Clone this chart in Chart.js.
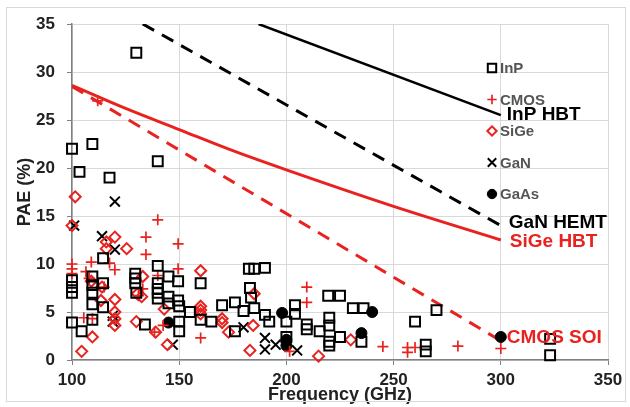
<!DOCTYPE html>
<html>
<head>
<meta charset="utf-8">
<script src="https://cdn.jsdelivr.net/npm/chart.js@4.4.1/dist/chart.umd.min.js"></script>
<style>
  html, body { margin:0; padding:0; background:#fff; }
  #wrap { position:relative; width:630px; height:407px; }
  #frame { position:absolute; left:6px; top:7px; width:618px; height:393px; border:1px solid #d9d9d9; pointer-events:none; }
</style>
</head>
<body>
<div id="wrap">
  <canvas id="chart" width="630" height="407"></canvas>
  <div id="frame"></div>
</div>
<script>
// measured points, [frequency GHz, PAE %]
const inpPoints = [
  [130,32],[100,22],[109.5,22.5],[103.5,19.6],[117.5,19],[140,20.7],
  [100,8.3],[100,7.6],[100,7.0],[100,3.9],[104.5,3.0],
  [109.5,8.7],[109.5,7.8],[109.5,7.0],[109.5,5.8],[109.5,4.2],
  [114.5,10.6],[114.5,8.0],[114.5,5.5],
  [129.5,9.0],[129.5,8.5],[129.5,8.0],[130,7.0],[134,3.7],
  [140,9.8],[140,8.0],[140,7.4],[140,7.0],[140,6.4],
  [145,8.7],[145,6.6],[145,5.9],
  [149.5,8.2],[149.5,6.2],[150,5.6],[150,4.0],[150,3.0],
  [155,5.0],[160,8.0],[160,4.2],[165,4.0],[170,5.7],[176,6.0],[180,5.1],[176,3.0],
  [182.5,9.5],[185,9.5],[190,9.6],[183,7.5],[183.5,6.5],[185,5.4],[190,4.7],[192,4.0],
  [200,4.0],[200,2.4],[204,5.7],[204,4.8],[209.5,3.7],[209.5,3.2],
  [215.5,3.0],[219.5,6.7],[225,6.7],[220,4.4],[220,3.6],[220,1.9],[220,1.5],[225,2.4],
  [231,5.4],[236,5.4],[235,1.9],[260,4.0],[270,5.2],[265,1.6],[265,0.9],[323,2.2],[323,0.5]
];
const cmosPoints = [
  [100,10.0],[100,9.5],[100,9.0],[106.5,9.2],[108,8.5],[109,10.2],[117.5,10.1],[120,9.4],
  [115,7.6],[105.5,4.4],[109.5,4.3],[112,27],[134.5,12.8],[134.5,11.0],[140,14.6],[140,8.8],
  [149.5,12.1],[149.5,9.5],[133,7.4],[131,6.7],[138.5,2.9],[142.5,3.6],[160,2.3],[201.5,0.9],
  [209.5,7.6],[209.5,6.0],[245,1.4],[256.5,1.3],[256.5,0.8],[260,1.3],[280,1.45],[300,1.2]
];
const sigePoints = [
  [100,14],[101.5,17],[104.5,0.9],[109.5,2.4],[109,8.2],[114,7.6],[113.5,6.2],[116,12.3],
  [116,11.6],[120,12.8],[125.5,11.6],[120,6.3],[120,5.0],[120,4.3],[120,3.6],[130,4.0],
  [133,8.7],[130.5,6.9],[132.5,6.6],[139,2.9],[143,5.3],[144.5,1.6],[160,9.3],[160,5.6],
  [160,5.2],[160,4.8],[170,4.3],[170,3.9],[173,2.9],[183,1.0],[185,6.9],[184.5,3.6],
  [215,0.4],[230,2.1]
];
const ganPoints = [
  [101,14],[114,12.9],[120,16.5],[120,11.5],[119,4.6],[119,4.0],[147,1.6],[180,3.4],
  [190,2.3],[190,1.1],[195,1.6],[205,1.0]
];
const gaasPoints = [[145,3.9],[198,4.9],[200,1.5],[200,2.1],[235,2.8],[240,5.0],[300,2.4]];

// trend curves
const inpHbt = [[187,35],[300,25.5]];
const ganHemt = [[133,35],[300,14]];
const sigeHbt = [[100,28.6],[125,26.2],[150,24.0],[175,21.8],[200,19.8],[250,16.0],[300,12.5]];
const cmosSoi = [[100,28.5],[300,2]];

const xTicks = [100,150,200,250,300,350];
const legendNames = ["InP","CMOS","SiGe","GaN","GaAs"];
const curveNames = ["InP HBT","GaN HEMT","SiGe HBT","CMOS SOI"];

const RED = "#e8231f";
const FONT = '"Liberation Sans", Arial, sans-serif';
const xy = arr => arr.map(p => ({x:p[0], y:p[1]}));

const markerStyles = [
  {pointStyle:"rect", radius:7, color:"#000", fill:"rgba(0,0,0,0)", width:2},
  {pointStyle:"cross", radius:5.5, color:RED, fill:"rgba(0,0,0,0)", width:1.7},
  {pointStyle:"rectRot", radius:5.5, color:RED, fill:"rgba(0,0,0,0)", width:2},
  {pointStyle:"crossRot", radius:7, color:"#000", fill:"rgba(0,0,0,0)", width:2},
  {pointStyle:"circle", radius:5.5, color:"#000", fill:"#000", width:1}
];
const pointSets = [inpPoints, cmosPoints, sigePoints, ganPoints, gaasPoints];

const lineStyles = [
  {color:"#000", width:2.5, dash:[]},
  {color:"#000", width:3, dash:[13,9]},
  {color:RED, width:3, dash:[]},
  {color:RED, width:3, dash:[13,9]}
];
const lineSets = [inpHbt, ganHemt, sigeHbt, cmosSoi];

const datasets = [];
pointSets.forEach((pts, i) => {
  const m = markerStyles[i];
  datasets.push({
    label: legendNames[i],
    data: xy(pts),
    pointStyle: m.pointStyle,
    pointRadius: m.radius,
    pointBorderColor: m.color,
    pointBackgroundColor: m.fill,
    pointBorderWidth: m.width,
    clip: false,
    order: 1
  });
});
lineSets.forEach((pts, i) => {
  const s = lineStyles[i];
  datasets.push({
    label: curveNames[i],
    data: xy(pts),
    showLine: true,
    borderColor: s.color,
    borderWidth: s.width,
    borderDash: s.dash,
    pointRadius: 0,
    cubicInterpolationMode: "monotone",
    order: 10
  });
});

// label offsets (px) from the last point of each curve
const curveLabelStyle = [
  {color:"#000", dx:6, dy:0},
  {color:"#000", dx:8, dy:-3},
  {color:RED, dx:9, dy:2},
  {color:RED, dx:6, dy:-3}
];

const overlay = {
  id: "overlay",
  afterDatasetsDraw(chart){
    const {ctx, chartArea, scales:{x, y}} = chart;
    ctx.save();
    ctx.textBaseline = "middle";
    ctx.textAlign = "left";
    ctx.font = `bold 19px ${FONT}`;
    lineSets.forEach((pts, i) => {
      const last = pts[pts.length - 1];
      const st = curveLabelStyle[i];
      ctx.fillStyle = st.color;
      ctx.fillText(curveNames[i], x.getPixelForValue(last[0]) + st.dx, y.getPixelForValue(last[1]) + st.dy);
    });
    // legend
    ctx.font = `bold 15px ${FONT}`;
    const lx = chartArea.left + 420, ly = chartArea.top + 44;
    legendNames.forEach((name, i) => {
      const m = markerStyles[i];
      const py = ly + i * 31.5;
      ctx.strokeStyle = m.color;
      ctx.fillStyle = m.fill;
      ctx.lineWidth = m.width;
      Chart.helpers.drawPoint(ctx, {pointStyle:m.pointStyle, radius:m.radius * 0.85, rotation:0, borderWidth:m.width}, lx, py);
      ctx.fillStyle = "#555";
      ctx.fillText(name, lx + 8, py + 1);
    });
    ctx.restore();
  }
};

new Chart(document.getElementById("chart"), {
  type: "scatter",
  data: {datasets},
  plugins: [overlay],
  options: {
    responsive: false,
    animation: false,
    devicePixelRatio: 1,
    layout: {padding: {top:24, right:22, left:0, bottom:0}},
    plugins: {legend: {display:false}, tooltip: {enabled:false}},
    scales: {
      x: {
        type: "linear", min: 100, max: 350,
        afterBuildTicks: s => { s.ticks = xTicks.map(v => ({value:v})); },
        afterFit: s => { s.height = 47; },
        grid: {color:"#d9d9d9", tickColor:"#808080", tickLength:5},
        border: {color:"#808080", width:1.5},
        ticks: {color:"#222", font:{family:FONT, size:17, weight:"bold"}, padding:5},
        title: {display:true, text:"Frequency (GHz)", color:"#222", font:{family:FONT, size:18, weight:"bold"}, padding:{top:0, bottom:1}}
      },
      y: {
        min: 0, max: 35,
        ticks: {stepSize:5, color:"#222", font:{family:FONT, size:17, weight:"bold"}, padding:12},
        afterFit: s => { s.width = 72; },
        grid: {color:"#d9d9d9", tickColor:"#808080", tickLength:5},
        border: {color:"#808080", width:1.5},
        title: {display:true, text:"PAE (%)", color:"#222", font:{family:FONT, size:18, weight:"bold"}, padding:{top:14, bottom:0}}
      }
    }
  }
});
</script>
</body>
</html>
